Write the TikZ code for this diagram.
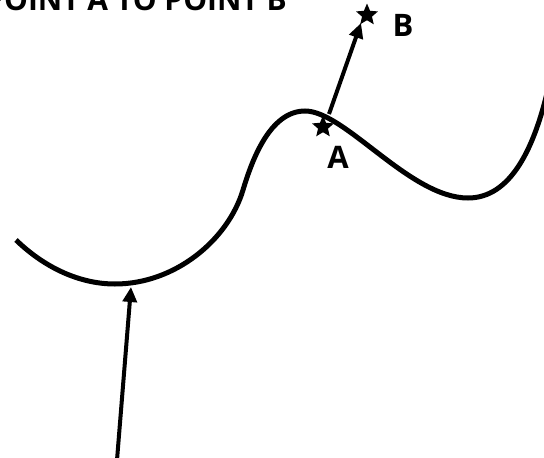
\documentclass[tikz,border=0pt]{standalone}
\usepackage{fontspec}
\setmainfont{Open Sans}
\usetikzlibrary{arrows.meta,shapes.geometric}
\begin{document}
\begin{tikzpicture}[x=1pt,y=-1pt,
  curveline/.style={line width=5pt},
  arrowline/.style={line width=4pt,-{Triangle[length=15pt,width=14pt]}},
  starmark/.style={star,star points=5,star point ratio=2.2,fill=black,inner sep=0pt,minimum size=23pt},
  lbl/.style={font=\bfseries\fontsize{31}{31}\selectfont,inner sep=0pt},
  ttl/.style={font=\bfseries\fontsize{30}{30}\selectfont,inner sep=0pt,anchor=base east}]
\useasboundingbox (0,0) rectangle (544,458);
\clip (0,0) rectangle (544,458);
\node[ttl] (title) at (287,10) {POINT A TO POINT B};
\draw[curveline] (16,240) .. controls (45,268) and (80,284) .. (115,284)
  .. controls (175,284) and (228,240) .. (243,190)
  .. controls (252,160) and (270,111) .. (305,111)
  .. controls (345,111) and (410,198) .. (468,198)
  .. controls (510,198) and (535,150) .. (550,80);
\coordinate (bot) at (117,460);
\coordinate (mid) at (131,287);
\draw[arrowline] (bot) -- (mid);
\node[starmark] (A) at (323,127) {};
\node[starmark] (B) at (367,15) {};
\coordinate (Astart) at (329,114);
\coordinate (Bend) at (361,23);
\draw[arrowline] (Astart) -- (Bend);
\node[lbl] (la) at (338,157) {A};
\node[lbl] (lb) at (403,25) {B};
\end{tikzpicture}
\end{document}
